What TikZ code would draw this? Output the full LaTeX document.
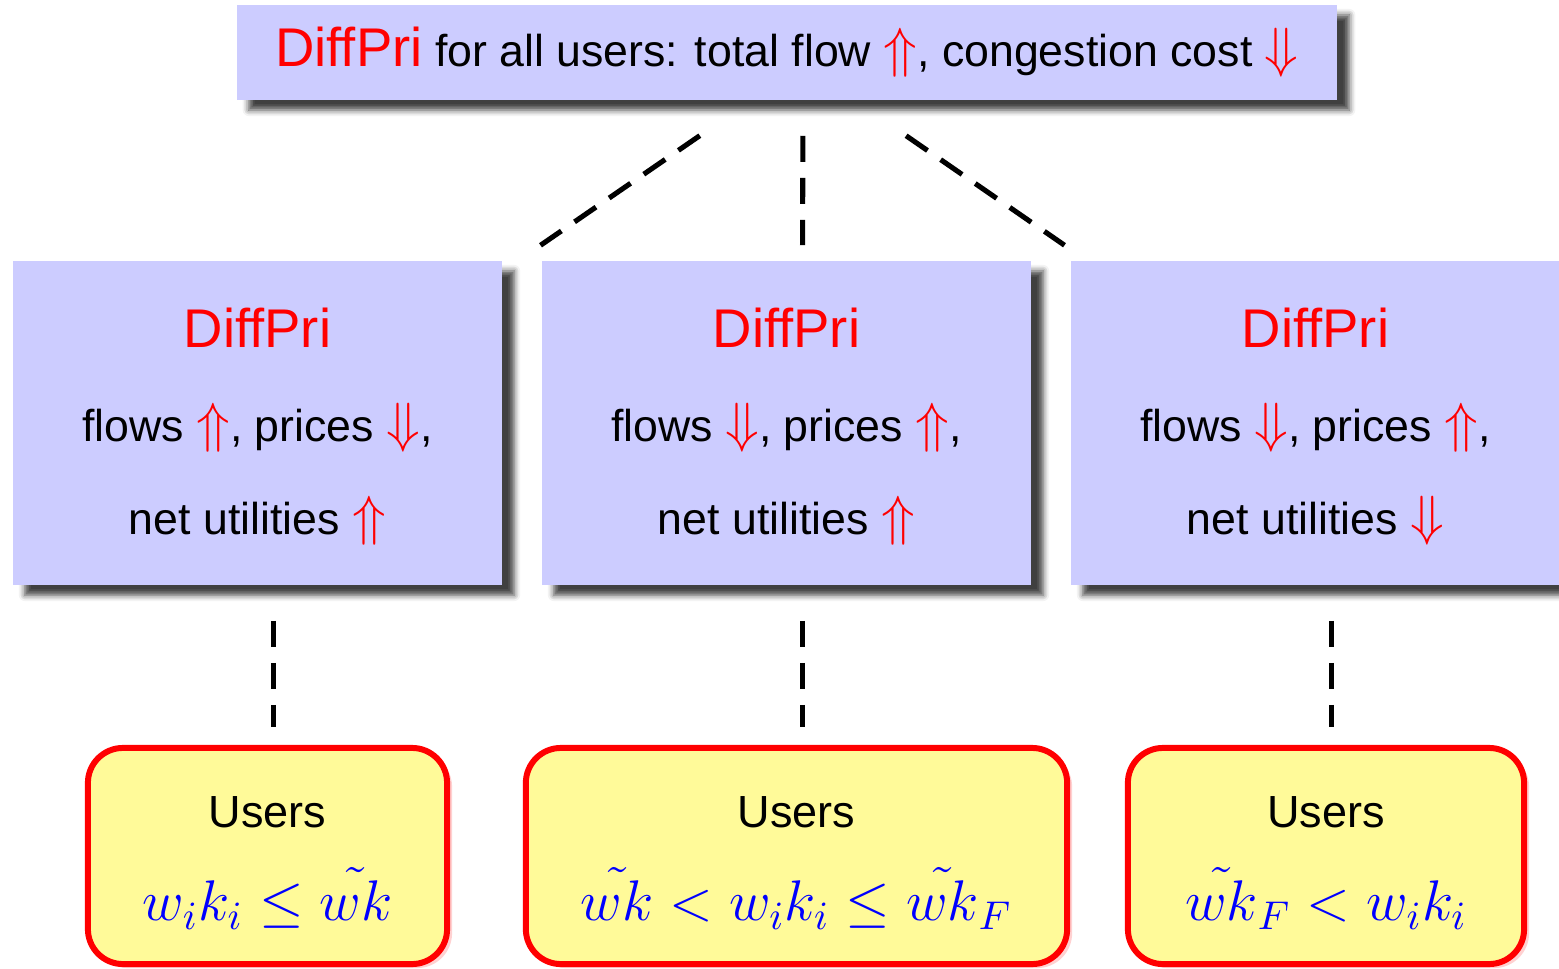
\RequirePackage{fix-cm}
\documentclass[tikz,border=0pt]{standalone}
\usepackage{fontspec}
\setmainfont{Liberation Sans}
\usetikzlibrary{calc,shadows,shadows.blur}
\newcommand{\body}{\fontsize{12.7pt}{26.5pt}\selectfont}
\newcommand{\diffpri}{{\fontsize{15.5pt}{26.5pt}\selectfont\color{red}DiffPri}}
\newcommand{\up}{{\fontsize{15.7pt}{26.5pt}\selectfont\color{red}$\Uparrow$}}
\newcommand{\down}{{\fontsize{15.7pt}{26.5pt}\selectfont\color{red}$\Downarrow$}}
\newcommand{\cond}[1]{{\fontsize{16.3pt}{26.5pt}\selectfont\color{blue}$#1$}}

\begin{document}
\begin{tikzpicture}[x=0.01cm,y=-0.01cm,
    link/.style={line width=1.45pt,dash pattern=on 0.26cm off 0.16cm}]

    % `level' is used for the top box and the three pricing boxes.
    % `users' is used for the rounded boxes at the bottom.
    \tikzstyle{level} = [fill=blue!20,inner sep=0pt,align=center,font=\body,
        blur shadow={shadow xshift=0.12cm,shadow yshift=-0.1cm,
                     shadow blur radius=0.06cm,shadow opacity=75}]
    \tikzstyle{users} = [draw=red,line width=1.7pt,fill=yellow!40,
        rounded corners=0.35cm,minimum height=2.16cm,inner sep=0pt,
        align=center,font=\fontsize{12.8pt}{26.5pt}\selectfont,
        general shadow={fill=red!30,opacity=0.6,shadow xshift=0.05cm,shadow yshift=-0.04cm}]
    \useasboundingbox (0,0) rectangle (1559,969);

    % Top row.
    \node[level,minimum width=11cm,minimum height=0.95cm] (top) at (787,52.5)
        {\diffpri{} for all users: total flow \up, congestion cost \down};

    % Middle row.
    \node[level,minimum width=4.89cm,minimum height=3.24cm] (mid1) at (257.5,423)
        {\rule{0pt}{0.47cm}\diffpri\\ flows \up, prices \down,\\ net utilities \up};
    \node[level,minimum width=4.89cm,minimum height=3.24cm] (mid2) at (786.5,423)
        {\rule{0pt}{0.47cm}\diffpri\\ flows \down, prices \up,\\ net utilities \up};
    \node[level,minimum width=4.89cm,minimum height=3.24cm] (mid3) at (1315.5,423)
        {\rule{0pt}{0.47cm}\diffpri\\ flows \down, prices \up,\\ net utilities \down};

    % Bottom row.
    \node[users,minimum width=3.59cm] (low1) at (267.5,856)
        {\rule{0pt}{0.45cm}Users\\ \cond{w_ik_i\le\tilde{wk}}};
    \node[users,minimum width=5.41cm] (low2) at (796.5,856)
        {\rule{0pt}{0.45cm}Users\\ \cond{\tilde{wk}<w_ik_i\le\tilde{wk}_F}};
    \node[users,minimum width=3.96cm] (low3) at (1326,856)
        {\rule{0pt}{0.45cm}Users\\ \cond{\tilde{wk}_F<w_ik_i}};

    % Dashed links.
    \draw[link,shorten <=0.615cm,shorten >=0.263cm]
        ($(top.south)+(-36.5,0)$) -- ($(mid1.north east)+(16,0)$);
    \draw[link,shorten <=0.35cm,shorten >=0.15cm]
        ($(top.south)+(16,0)$) -- ($(mid2.north)+(16,0)$);
    \draw[link,shorten <=0.615cm,shorten >=0.263cm]
        ($(top.south)+(68.5,0)$) -- ($(mid3.north west)+(16,0)$);
    \foreach \i in {1,2,3} {
        \coordinate (d\i) at ($(mid\i.south)+(16,0)$);
        \draw[link,shorten <=0.35cm,shorten >=0.18cm] (d\i) -- (d\i |- low\i.north);
    }
\end{tikzpicture}
\end{document}
